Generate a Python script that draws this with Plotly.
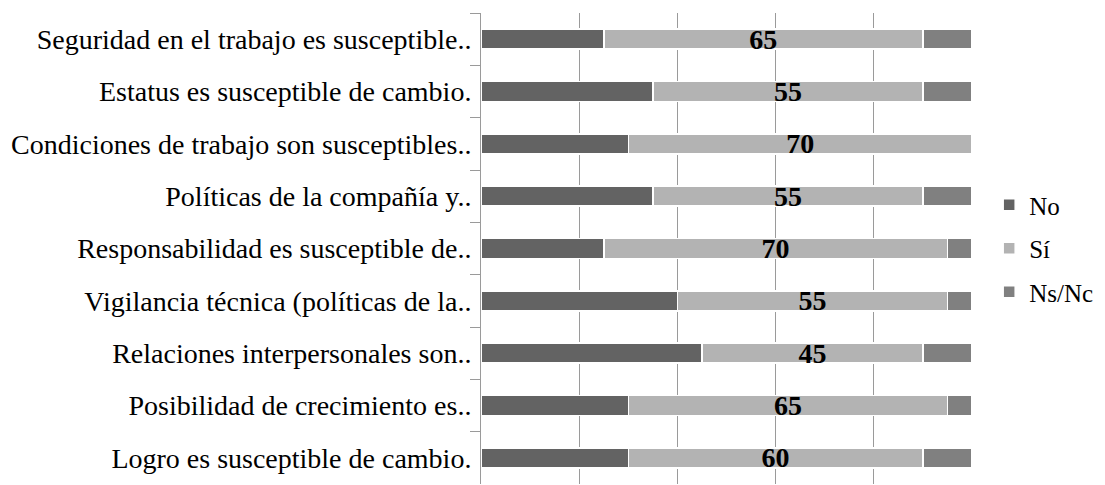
import plotly.graph_objects as go

categories = [
    "Seguridad en el trabajo es susceptible..",
    "Estatus es susceptible de cambio.",
    "Condiciones de trabajo son susceptibles..",
    "Políticas de la compañía y..",
    "Responsabilidad es susceptible de..",
    "Vigilancia técnica (políticas de la..",
    "Relaciones interpersonales son..",
    "Posibilidad de crecimiento es..",
    "Logro es susceptible de cambio.",
]
no_vals = [25, 35, 30, 35, 25, 40, 45, 30, 30]
si_vals = [65, 55, 70, 55, 70, 55, 45, 65, 60]
ns_vals = [10, 10, 0, 10, 5, 5, 10, 5, 10]

series = [("No", no_vals, "#636363", False), ("Sí", si_vals, "#b3b3b3", True), ("Ns/Nc", ns_vals, "#808080", False)]

font_family = "Liberation Serif, Times New Roman, serif"

fig = go.Figure()
for name, vals, color, show in series:
    fig.add_trace(go.Bar(
        y=categories, x=vals, name=name, orientation="h", legendgroup=name,
        marker=dict(color=color, line=dict(color="white", width=1.5)),
        text=[str(v) for v in vals] if show else None,
        texttemplate="<b>%{text}</b>" if show else None,
        textposition="inside" if show else "none",
        insidetextanchor="middle",
        textangle=0,
        constraintext="none",
        textfont=dict(family=font_family, size=28, color="black"),
        cliponaxis=False,
    ))

# page body has an 8px margin, so the figure is sized/placed to compensate
fig.update_layout(
    barmode="stack",
    bargap=0.62,
    width=1097, height=477,
    margin=dict(l=473, r=133, t=5, b=1, autoexpand=False),
    paper_bgcolor="white", plot_bgcolor="white",
    font=dict(family=font_family, size=28, color="black"),
    legend=dict(
        x=1.035, xanchor="left", y=0.5, yanchor="middle",
        traceorder="grouped",
        font=dict(family=font_family, size=25, color="black"),
        itemwidth=30, tracegroupgap=8,
        bgcolor="rgba(0,0,0,0)",
    ),
    xaxis=dict(
        range=[0, 100], tickvals=[0, 20, 40, 60, 80, 100],
        showticklabels=False, showgrid=True, gridcolor="#9a9a9a", gridwidth=1,
        zeroline=False, showline=False, fixedrange=True,
    ),
    yaxis=dict(
        autorange="reversed", type="category",
        showline=True, linecolor="#9a9a9a", linewidth=1,
        ticks="outside", ticklen=10, tickcolor="#9a9a9a", tickson="boundaries",
        ticklabelstandoff=3, automargin=False,
        tickfont=dict(family=font_family, size=28, color="black"),
        showgrid=False,
    ),
)

fig.write_html("out.html")
